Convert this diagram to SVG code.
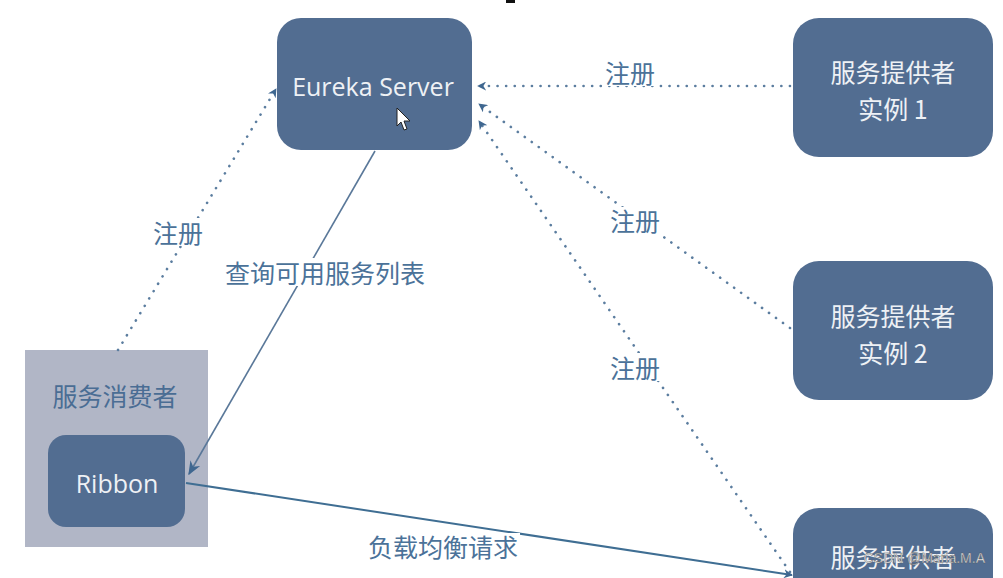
<svg xmlns="http://www.w3.org/2000/svg" width="1003" height="578" viewBox="0 0 1003 578">
<style>
.node{fill:#526d91}
.ntext{fill:#eef1f5;font-family:"Open Sans","Noto Sans CJK SC",sans-serif;font-size:25px;text-anchor:middle;dominant-baseline:central}
.cjk{font-family:"Noto Sans CJK SC",sans-serif}
.label{fill:#4b7299;font-family:"Noto Sans CJK SC",sans-serif;font-size:25px;text-anchor:middle;dominant-baseline:central}
.dot{fill:none;stroke:#5b7d9f;stroke-width:2.6;stroke-dasharray:0.1 8.5;stroke-linecap:round}
.solid{fill:none;stroke:#5a7899;stroke-width:1.6}
.solid2{fill:none;stroke:#3f6e93;stroke-width:2}
</style>
<defs>
<marker id="ah" viewBox="0 0 10 10" refX="9" refY="5" markerWidth="9" markerHeight="9" markerUnits="userSpaceOnUse" orient="auto">
<path d="M0,0 L10,5 L0,10 L3,5 z" fill="#3f6790"/>
</marker>
<marker id="ah2" viewBox="0 0 10 10" refX="9" refY="5" markerWidth="14" markerHeight="14" markerUnits="userSpaceOnUse" orient="auto">
<path d="M0,1 L10,5 L0,9 L3,5 z" fill="#3f6790"/>
</marker>
</defs>
<rect width="1003" height="578" fill="#ffffff"/>
<rect x="506" y="0" width="9" height="3" fill="#111"/>

<g id="consumer">
<rect x="25" y="350" width="183" height="197" fill="#b1b6c6"/>
<text class="label" x="115" y="395" style="fill:#4a6d94">服务消费者</text>
</g>

<g id="connectors">
<path class="dot" d="M790,86 L478,86" marker-end="url(#ah)"/>
<path class="dot" d="M790,328 L479,104" marker-end="url(#ah)"/>
<path class="dot" d="M790,572 L479,121" marker-end="url(#ah)"/>
<path class="dot" d="M118,350 L276,89" marker-end="url(#ah)"/>
<path class="solid" d="M375,151 L189,474" marker-end="url(#ah2)"/>
<path class="solid2" d="M186,483 L792,575" marker-end="url(#ah)"/>
<g>
<rect x="604" y="58" width="52" height="28" fill="#fff"/>
<text class="label" x="630" y="72">注册</text>
<rect x="609" y="207" width="52" height="28" fill="#fff"/>
<text class="label" x="635" y="220">注册</text>
<rect x="609" y="353" width="52" height="28" fill="#fff"/>
<text class="label" x="635" y="367">注册</text>
<rect x="152" y="218" width="52" height="28" fill="#fff"/>
<text class="label" x="178" y="232">注册</text>
<rect x="223" y="258" width="204" height="28" fill="#fff"/>
<text class="label" x="325" y="272">查询可用服务列表</text>
<rect x="366" y="533" width="154" height="28" fill="#fff"/>
<text class="label" x="443" y="546">负载均衡请求</text>
</g>
</g>

<g id="eureka">
<rect class="node" x="277" y="18" width="195" height="132" rx="24"/>
<text class="ntext" x="373" y="86">Eureka Server</text>
<path d="M397,108 L397,126 L401,122 L404,130 L407,129 L404,121 L410,121 z" fill="#fff" stroke="#222" stroke-width="1"/>
</g>

<g id="provider1">
<rect class="node" x="793" y="18" width="200" height="139" rx="26"/>
<text class="ntext cjk" x="893" y="71">服务提供者</text>
<text class="ntext cjk" x="893" y="108">实例 1</text>
</g>

<g id="provider2">
<rect class="node" x="793" y="261" width="200" height="139" rx="26"/>
<text class="ntext cjk" x="893" y="315">服务提供者</text>
<text class="ntext cjk" x="893" y="352">实例 2</text>
</g>

<g id="provider3">
<rect class="node" x="793" y="508" width="200" height="100" rx="26"/>
<text class="ntext cjk" x="893" y="556">服务提供者</text>
</g>

<g id="ribbon">
<rect class="node" x="48" y="435" width="137" height="92" rx="18"/>
<text class="ntext" x="117" y="483">Ribbon</text>
</g>

<text x="985" y="563" text-anchor="end" font-family="Liberation Sans, sans-serif" font-size="14" fill="#f2f2f2" stroke="#555" stroke-width="0.4">CSDN @Maria.M.A</text>
</svg>
